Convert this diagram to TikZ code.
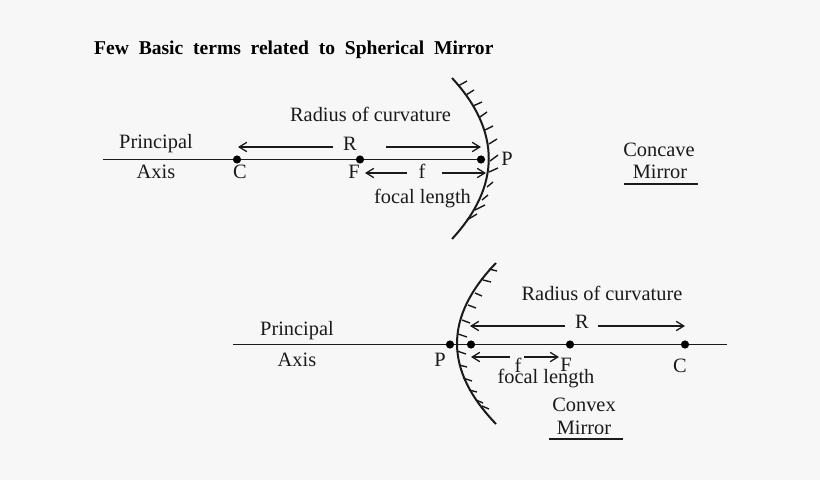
\documentclass[tikz,border=0pt]{standalone}
\usepackage{fontspec}
\setmainfont{Liberation Serif}
\usetikzlibrary{arrows.meta}
\definecolor{pagegray}{HTML}{F7F7F7}
\definecolor{inkgray}{HTML}{1A1A1A}
\tikzset{
	lbl/.style={inner sep=0pt,text=inkgray,font=\fontsize{17.4pt}{19pt}\selectfont},
	headline/.style={inner sep=0pt,anchor=west,text=black,font=\fontsize{16.7pt}{19pt}\selectfont\bfseries},
	dot/.style={circle,fill=black,inner sep=0pt,minimum size=7pt},
	arr/.style={-{Straight Barb[length=6.5pt,width=8pt]},line width=1.1pt,draw=inkgray},
	mirror/.style={line width=1.7pt,draw=inkgray},
	hatch/.style={line width=1.2pt,draw=inkgray},
	axisline/.style={line width=1.5pt,draw=inkgray}
}
\begin{document}
\begin{tikzpicture}[x=0.03cm,y=-0.03cm]
	\fill[pagegray] (0,0) rectangle (820,480);
	\useasboundingbox (0,0) rectangle (820,480);

	\node (title) at (94,49.5) [headline] {Few\ \ Basic\ \ terms\ \ related\ \ to\ \ Spherical\ \ Mirror};

	% concave mirror
	\coordinate (axisA) at (103,159.5);
	\node (C1) at (237,159.5) [dot] {};
	\node (F1) at (360,159.5) [dot] {};
	\node (P1) at (481,159.5) [dot] {};
	\coordinate (topA) at (452,78);
	\coordinate (botA) at (452,239);
	\draw[axisline] (axisA) -- (C1) -- (F1) -- (P1);
	\draw[mirror] (topA) .. controls (501,131) and (501,186) .. (botA);
	\foreach \xa/\ya/\xb/\yb in {458/86/467/81,466/95/474/90,473/106/482/102,480/117/487/112,
		485/130/493/126,489/144/497/139,490/161/498/155,489/172/498/168,
		487/187/493/182,482/200/488/195,475/210/485/205,467/220/477/214}
		\draw[hatch] (\xa,\ya) -- (\xb,\yb);

	\node (rad1) at (370.5,114) [lbl] {Radius of curvature};
	\node (R1) at (350,144) [lbl] {R};
	\node (f1) at (422,171) [lbl] {f};
	\node (foc1) at (422.5,199) [lbl] {focal length};
	\node (prin1) at (156,143.5) [lbl] {Principal};
	\node (ax1) at (156,172) [lbl] {Axis};
	\node (c1) at (240,172) [lbl] {C};
	\node (ff1) at (354,172) [lbl] {F};
	\node (p1) at (507,159) [lbl] {P};
	\node (cave) at (659,150) [lbl] {Concave};
	\node (mir1) at (660,172) [lbl] {Mirror};
	\coordinate (ulA) at (624,184);
	\coordinate (urA) at (698,184);
	\draw[axisline] (ulA) -- (urA);

	\coordinate (r1a) at (333,147);
	\coordinate (r1b) at (238,147);
	\coordinate (r1c) at (386,147);
	\coordinate (r1d) at (481,147);
	\coordinate (f1a) at (407,173);
	\coordinate (f1b) at (365,173);
	\coordinate (f1c) at (442,173);
	\coordinate (f1d) at (486,173);
	\draw[arr] (r1a) -- (r1b);
	\draw[arr] (r1c) -- (r1d);
	\draw[arr] (f1a) -- (f1b);
	\draw[arr] (f1c) -- (f1d);

	% convex mirror
	\coordinate (axisB) at (233,344.5);
	\coordinate (axisC) at (727,344.5);
	\node (P2) at (450,344.5) [dot] {};
	\node (M2) at (471,344.5) [dot] {};
	\node (F2) at (570,344.5) [dot] {};
	\node (C2) at (685,344.5) [dot] {};
	\coordinate (topB) at (496,263);
	\coordinate (botB) at (496,424);
	\draw[axisline] (axisB) -- (P2) -- (M2) -- (F2) -- (C2) -- (axisC);
	\draw[mirror] (topB) .. controls (444,317) and (444,370) .. (botB);
	\foreach \xa/\ya/\xb/\yb in {489/269/497/271,483/280/491/282,475/293/482/296,468/305/476/308,
		462/320/470/323,458/334/467/337,457/351/466/354,459/365/467/367,
		463/378/472/381,469/390/477/392,476/400/483/403,482/406/489/409}
		\draw[hatch] (\xa,\ya) -- (\xb,\yb);

	\node (rad2) at (602,293) [lbl] {Radius of curvature};
	\node (R2) at (582,322) [lbl] {R};
	\node (f2) at (518,365) [lbl] {f};
	\node (foc2) at (546,379) [lbl] {focal length};
	\node (prin2) at (297,331) [lbl] {Principal};
	\node (ax2) at (297,360) [lbl] {Axis};
	\node (p2) at (440,360) [lbl] {P};
	\node (ff2) at (566,365) [lbl] {F};
	\node (c2) at (680,366) [lbl] {C};
	\node (vex) at (584,405) [lbl] {Convex};
	\node (mir2) at (584,428) [lbl] {Mirror};
	\coordinate (ulB) at (549,439);
	\coordinate (urB) at (623,439);
	\draw[axisline] (ulB) -- (urB);

	\coordinate (r2a) at (565,326);
	\coordinate (r2b) at (470,326);
	\coordinate (r2c) at (598,326);
	\coordinate (r2d) at (685,326);
	\coordinate (f2a) at (510,357);
	\coordinate (f2b) at (471,357);
	\coordinate (f2c) at (524,357);
	\coordinate (f2d) at (559,357);
	\draw[arr] (r2a) -- (r2b);
	\draw[arr] (r2c) -- (r2d);
	\draw[arr] (f2a) -- (f2b);
	\draw[arr] (f2c) -- (f2d);
\end{tikzpicture}
\end{document}
